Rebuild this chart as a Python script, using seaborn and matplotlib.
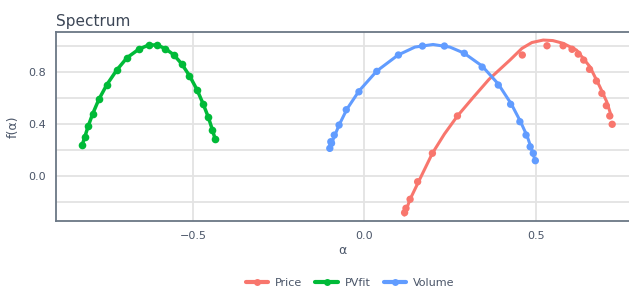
import pandas as pd
import matplotlib
matplotlib.use('Agg')
import matplotlib.pyplot as plt
from matplotlib.lines import Line2D
import seaborn as sns

# observed spectrum points
price_alpha = [0.117, 0.121, 0.133, 0.155, 0.198, 0.271, 0.460, 0.532, 0.579, 0.605,
               0.623, 0.639, 0.656, 0.676, 0.692, 0.705, 0.715, 0.722]
price_f = [-0.282, -0.248, -0.179, -0.044, 0.175, 0.462, 0.931, 1.002, 1.002, 0.975,
           0.938, 0.892, 0.821, 0.731, 0.636, 0.541, 0.462, 0.398]

pvfit_alpha = [-0.823, -0.815, -0.805, -0.792, -0.774, -0.751, -0.722, -0.692, -0.658, -0.629,
               -0.604, -0.580, -0.556, -0.533, -0.510, -0.488, -0.470, -0.455, -0.443, -0.435]
pvfit_f = [0.236, 0.302, 0.385, 0.479, 0.590, 0.702, 0.815, 0.910, 0.975, 1.008,
           1.008, 0.979, 0.933, 0.864, 0.772, 0.664, 0.554, 0.452, 0.354, 0.282]

volume_alpha = [-0.101, -0.098, -0.096, -0.088, -0.074, -0.053, -0.016, 0.036, 0.099, 0.169,
                0.233, 0.291, 0.343, 0.390, 0.426, 0.453, 0.471, 0.483, 0.492, 0.498]
volume_f = [0.213, 0.264, 0.252, 0.315, 0.392, 0.510, 0.648, 0.805, 0.931, 1.000,
            1.000, 0.944, 0.838, 0.700, 0.552, 0.418, 0.315, 0.225, 0.175, 0.118]

# fitted curves
price_fit_alpha = [0.116, 0.133, 0.160, 0.198, 0.233, 0.271, 0.318, 0.363, 0.424, 0.459,
                   0.488, 0.521, 0.549, 0.579, 0.618, 0.657, 0.686, 0.706, 0.720]
price_fit_f = [-0.300, -0.179, -0.031, 0.175, 0.323, 0.462, 0.608, 0.744, 0.892, 0.982,
               1.027, 1.046, 1.042, 1.021, 0.969, 0.841, 0.687, 0.572, 0.456]

volume_fit_alpha = [-0.103, -0.092, -0.074, -0.051, -0.016, 0.036, 0.098, 0.147, 0.200,
                    0.249, 0.290, 0.343, 0.390, 0.428, 0.454, 0.474, 0.488, 0.497]
volume_fit_f = [0.200, 0.277, 0.392, 0.515, 0.654, 0.808, 0.931, 0.992, 1.012,
                0.992, 0.946, 0.846, 0.708, 0.554, 0.423, 0.308, 0.200, 0.123]

colors = {'Price': '#F8766D', 'PVfit': '#00BA38', 'Volume': '#619CFF'}
txt = '#4a5568'

points = pd.concat([
    pd.DataFrame({'alpha': price_alpha, 'f': price_f, 'series': 'Price'}),
    pd.DataFrame({'alpha': volume_alpha, 'f': volume_f, 'series': 'Volume'}),
])
fits = pd.concat([
    pd.DataFrame({'alpha': price_fit_alpha, 'f': price_fit_f, 'series': 'Price'}),
    pd.DataFrame({'alpha': volume_fit_alpha, 'f': volume_fit_f, 'series': 'Volume'}),
])
pv = pd.DataFrame({'alpha': pvfit_alpha, 'f': pvfit_f})

sns.set_style('white')
plt.rcParams['font.family'] = ['DejaVu Sans']

fig = plt.figure(figsize=(6.29, 2.91), dpi=100)
ax = fig.add_axes([56 / 629, 70 / 291, 573 / 629, 189 / 291])

sns.lineplot(data=fits, x='alpha', y='f', hue='series', palette=colors, sort=False,
             estimator=None, linewidth=2.2, legend=False, ax=ax, zorder=3)
sns.scatterplot(data=points, x='alpha', y='f', hue='series', palette=colors, s=28,
                linewidth=0, legend=False, ax=ax, zorder=4)
sns.lineplot(data=pv, x='alpha', y='f', color=colors['PVfit'], marker='o', markersize=5.5,
             markeredgewidth=0, sort=False, estimator=None, linewidth=2.5, ax=ax, zorder=3)

ax.set_xlim(-0.899, 0.771)
ax.set_ylim(-0.346, 1.108)
ax.set_xticks([-0.5, 0.0, 0.5])
ax.set_xticklabels(['\u22120.5', '0.0', '0.5'])
ax.set_yticks([0.0, 0.4, 0.8])
ax.set_yticks([-0.2, 0.2, 0.6, 1.0], minor=True)
ax.grid(True, which='both', color='#e3e3e3', linewidth=1.3)
ax.set_axisbelow(True)
ax.tick_params(which='major', length=4, width=1, color='#c8c8c8', labelsize=8, labelcolor=txt, pad=3)
ax.tick_params(which='minor', length=0)

for side in ['left', 'bottom', 'top']:
    ax.spines[side].set_color('#6b7785')
    ax.spines[side].set_linewidth(1.3)
ax.spines['right'].set_visible(False)

ax.set_xlabel('\u03b1', color=txt, fontsize=9, labelpad=2)
ax.set_ylabel('f(\u03b1)', color=txt, fontsize=9, labelpad=6)
ax.set_title('Spectrum', loc='left', color='#3c4656', fontsize=11, pad=4)

handles = [Line2D([0], [0], color=colors[k], linewidth=3, marker='o', markersize=5, markeredgewidth=0)
           for k in ['Price', 'PVfit', 'Volume']]
fig.legend(handles, ['Price', 'PVfit', 'Volume'], loc='center', bbox_to_anchor=(350 / 629, 1 - 283 / 291),
           ncol=3, frameon=False, fontsize=8, handlelength=2.0, columnspacing=1.2, handletextpad=0.6,
           labelcolor=txt)

fig.savefig('out.png', dpi=100)
